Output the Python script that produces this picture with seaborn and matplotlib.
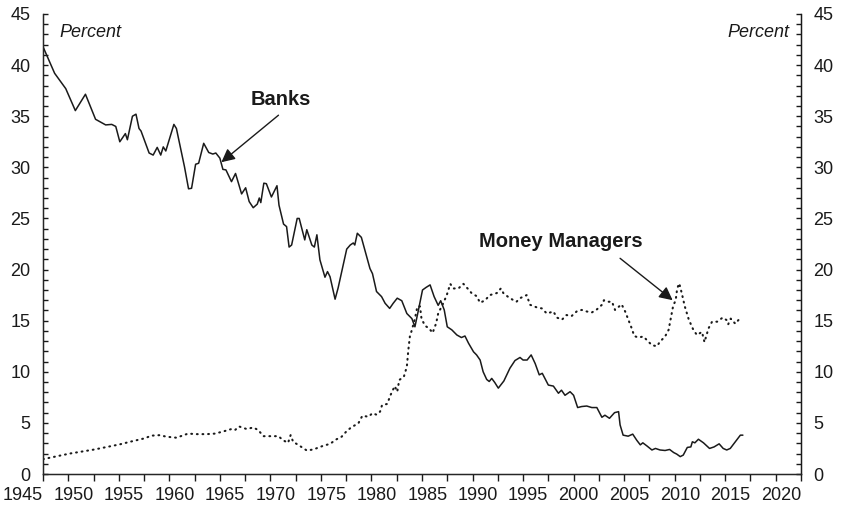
import numpy as np
import pandas as pd
import matplotlib
matplotlib.use("Agg")
import matplotlib.pyplot as plt
import seaborn as sns
from matplotlib.ticker import MultipleLocator

# ---------------- data ----------------
bank_years = [1945.0, 1946.15, 1947.25, 1948.2, 1949.2, 1950.2, 1951.2, 1951.8, 1952.2, 1952.6,
              1953.15, 1953.35, 1953.85, 1954.2, 1954.5, 1954.7, 1955.5, 1955.9, 1956.3, 1956.65,
              1956.9, 1957.15, 1957.95, 1958.2, 1959.0, 1959.4, 1959.7, 1960.1, 1960.4, 1960.9,
              1961.4, 1961.8, 1962.1, 1962.5, 1962.8, 1963.1, 1963.65, 1964.05, 1964.65, 1965.05,
              1965.4, 1965.8, 1966.2, 1966.4, 1966.55, 1966.85, 1967.1, 1967.6, 1968.15, 1968.35,
              1968.8, 1969.1, 1969.35, 1969.6, 1970.15, 1970.35, 1970.9, 1971.1, 1971.6, 1971.85,
              1972.1, 1972.4, 1972.9, 1973.15, 1973.4, 1973.9, 1974.2, 1974.7, 1975.05, 1975.4,
              1975.7, 1975.85, 1976.1, 1976.5, 1976.85, 1977.35, 1977.6, 1978.0, 1978.5, 1978.85,
              1979.3, 1979.65, 1980.05, 1980.5, 1981.0, 1981.5, 1981.8, 1982.15, 1982.55, 1982.9,
              1983.3, 1983.7, 1984.1, 1984.35, 1984.7, 1985.0, 1985.45, 1985.95, 1986.4, 1986.75,
              1987.1, 1987.6, 1987.9, 1988.25, 1988.55, 1988.9, 1989.15, 1989.4, 1989.7, 1990.05,
              1990.6, 1991.2, 1991.7, 1992.2, 1992.5, 1992.9, 1993.3, 1993.7, 1994.1, 1994.4,
              1995.0, 1995.5, 1996.0, 1996.3, 1996.65, 1997.15, 1997.5, 1997.9, 1998.3, 1998.8,
              1999.3, 1999.8, 2000.3, 2000.6, 2001.05, 2001.55, 2001.95, 2002.1, 2002.4, 2002.9,
              2003.35, 2003.75, 2004.1, 2004.35, 2004.75, 2005.25, 2005.6, 2006.05, 2006.55, 2007.0,
              2007.4, 2007.7, 2008.05, 2008.35, 2008.75, 2009.1, 2009.25, 2009.5, 2009.85, 2010.35,
              2010.95, 2011.4, 2011.9, 2012.3, 2012.65, 2013.0, 2013.5, 2014.0, 2014.25]
bank_values = [41.8, 39.2, 37.7, 35.55, 37.15, 34.7, 34.15, 34.2, 34.0, 32.5,
               33.3, 32.7, 35.0, 35.2, 33.8, 33.55, 31.4, 31.2, 31.95, 31.2,
               32.0, 31.6, 34.2, 33.8, 30.05, 27.9, 27.95, 30.3, 30.4, 32.35,
               31.45, 31.3, 31.4, 30.9, 29.8, 29.75, 28.6, 29.4, 27.4, 28.0,
               26.65, 26.05, 26.4, 27.0, 26.55, 28.45, 28.4, 27.1, 28.2, 26.3,
               24.45, 24.2, 22.2, 22.4, 25.0, 25.0, 22.9, 23.9, 22.4, 22.2,
               23.4, 20.95, 19.25, 19.8, 19.3, 17.1, 18.2, 20.45, 22.0, 22.4,
               22.6, 22.4, 23.55, 23.15, 21.9, 20.1, 19.6, 17.85, 17.35, 16.7,
               16.2, 16.7, 17.2, 16.95, 15.7, 15.2, 14.4, 16.05, 18.0, 18.25,
               18.5, 17.35, 16.5, 16.95, 16.05, 14.4, 14.1, 13.6, 13.35, 13.5,
               12.8, 11.95, 11.65, 11.15, 10.0, 9.25, 9.05, 9.35, 8.95, 8.4,
               9.1, 10.35, 11.1, 11.4, 11.15, 11.15, 11.65, 10.8, 9.7, 9.85,
               8.7, 8.6, 7.9, 8.2, 7.7, 8.05, 7.7, 6.5, 6.6, 6.65,
               6.5, 6.5, 5.55, 5.75, 5.45, 6.0, 6.1, 4.8, 3.8, 3.7,
               3.9, 3.3, 2.85, 3.05, 2.75, 2.35, 2.5, 2.35, 2.3, 2.4,
               2.1, 1.95, 1.7, 1.85, 2.6, 2.65, 3.15, 3.05, 3.4, 3.05,
               2.5, 2.65, 2.95, 2.5, 2.35, 2.5, 3.15, 3.8, 3.8]

mm_years = [1945.0, 1947.65, 1950.1, 1952.6, 1953.6, 1955.1, 1955.7, 1956.55, 1957.2, 1958.2,
            1959.35, 1960.2, 1961.2, 1962.0, 1962.8, 1963.65, 1964.0, 1964.4, 1965.15, 1965.8,
            1966.3, 1966.8, 1967.45, 1968.3, 1968.75, 1969.25, 1969.5, 1969.75, 1970.25, 1971.1,
            1971.75, 1972.7, 1973.4, 1974.05, 1974.55, 1975.05, 1975.55, 1976.2, 1976.6, 1977.2,
            1977.6, 1978.0, 1978.35, 1978.55, 1979.05, 1979.4, 1979.8, 1980.05, 1980.25, 1980.7,
            1981.0, 1981.15, 1981.3, 1981.5, 1981.8, 1982.05, 1982.3, 1982.45, 1982.8, 1983.2,
            1983.55, 1983.9, 1984.1, 1984.6, 1984.95, 1985.3, 1985.6, 1986.1, 1986.6, 1987.1,
            1987.4, 1987.9, 1988.25, 1988.75, 1989.2, 1989.9, 1990.3, 1990.55, 1991.05, 1991.55,
            1991.85, 1992.2, 1992.85, 1993.2, 1993.85, 1994.35, 1994.85, 1995.5, 1995.85, 1996.35,
            1996.8, 1997.3, 1997.8, 1998.3, 1998.8, 1999.3, 1999.8, 2000.3, 2000.5, 2000.95,
            2001.3, 2001.6, 2001.95, 2002.25, 2002.6, 2003.0, 2003.25, 2003.5, 2003.9, 2004.4,
            2004.75, 2005.25, 2005.75, 2006.05, 2006.55, 2006.9, 2007.15, 2007.35, 2007.6, 2007.75,
            2007.95, 2008.2, 2008.5, 2008.9, 2009.35, 2009.7, 2010.2, 2010.45, 2010.85, 2011.2,
            2011.7, 2012.25, 2012.65, 2012.8, 2013.05, 2013.5, 2013.8, 2014.05]
mm_values = [1.45, 2.0, 2.4, 2.9, 3.15, 3.5, 3.75, 3.8, 3.65, 3.55,
             3.95, 3.9, 3.9, 3.95, 4.15, 4.4, 4.3, 4.65, 4.4, 4.55,
             4.3, 3.7, 3.7, 3.7, 3.3, 3.05, 3.8, 3.15, 2.85, 2.3,
             2.4, 2.75, 2.95, 3.4, 3.65, 4.2, 4.6, 4.95, 5.7, 5.6,
             5.95, 5.8, 6.1, 6.75, 6.85, 7.75, 8.6, 8.05, 9.2, 9.5,
             10.5, 12.15, 13.45, 14.1, 15.2, 16.4, 16.4, 15.2, 14.5, 14.25,
             13.8, 14.75, 15.7, 16.7, 17.5, 18.6, 18.15, 18.15, 18.6, 18.05,
             17.7, 17.4, 16.75, 17.0, 17.5, 17.7, 18.15, 17.7, 17.3, 17.0,
             16.85, 17.2, 17.5, 16.55, 16.3, 16.2, 15.7, 15.9, 15.3, 15.1,
             15.55, 15.45, 15.9, 16.05, 15.9, 15.8, 16.1, 16.55, 17.0, 16.85,
             16.85, 16.05, 16.35, 16.6, 15.9, 14.9, 14.25, 13.5, 13.35, 13.45,
             13.1, 12.6, 12.5, 12.95, 13.45, 14.1, 15.4, 16.45, 17.0, 18.15,
             18.65, 17.7, 16.4, 15.1, 14.1, 13.6, 13.9, 12.9, 14.25, 14.9,
             14.9, 15.3, 15.05, 14.65, 15.2, 14.7, 15.05, 15.2]

x_ticks = list(range(1945, 2021, 5))
y_ticks = list(range(0, 46, 5))
x_tick_labels = [str(t) for t in x_ticks]
y_tick_labels = [str(t) for t in y_ticks]

# ---------------- style ----------------
sns.set_style("ticks")
plt.rcParams["font.family"] = ["Liberation Sans", "DejaVu Sans"]
INK = "#1a1a1a"

fig = plt.figure(figsize=(8.41, 5.11), dpi=100)
ax = fig.add_axes([43 / 841, 37 / 511, 758 / 841, 460 / 511])

banks = pd.DataFrame({"year": bank_years, "share": bank_values})
mm = pd.DataFrame({"year": mm_years, "share": mm_values})

sns.lineplot(data=banks, x="year", y="share", ax=ax, color=INK, lw=1.1,
             estimator=None, sort=False)
sns.lineplot(data=mm, x="year", y="share", ax=ax, color=INK, lw=1.5,
             linestyle=(0, (0.4, 2.3)), dash_capstyle="round",
             estimator=None, sort=False)

ax.set_xlim(1945, 2020)
ax.set_ylim(0, 45)
ax.set_xlabel("")
ax.set_ylabel("")
ax.spines["top"].set_visible(False)
for s in ["left", "right", "bottom"]:
    ax.spines[s].set_color(INK)
    ax.spines[s].set_linewidth(1.0)

ax.set_xticks(x_ticks)
ax.set_xticklabels(x_tick_labels, ha="right")
ax.xaxis.set_minor_locator(MultipleLocator(2.5))
ax.tick_params(axis="x", which="both", direction="out", length=5, width=1,
               color=INK, labelsize=13, labelcolor=INK, pad=4)
for lab in ax.get_xticklabels():
    lab.set_horizontalalignment("right")

ax.set_yticks(y_ticks)
ax.set_yticklabels(y_tick_labels)
ax.yaxis.set_minor_locator(MultipleLocator(1))
ax.tick_params(axis="y", which="both", direction="in", length=3.5, width=1,
               color=INK, labelsize=13, labelcolor=INK, pad=9)

ax2 = ax.twinx()
ax2.set_ylim(0, 45)
ax2.set_yticks(y_ticks)
ax2.set_yticklabels(y_tick_labels)
ax2.yaxis.set_minor_locator(MultipleLocator(1))
ax2.tick_params(axis="y", which="both", direction="in", length=3.5, width=1,
                color=INK, labelsize=13, labelcolor=INK, pad=9)
ax2.spines["top"].set_visible(False)
ax2.spines["right"].set_color(INK)

# ---------------- text & annotations ----------------
ax.text(1946.6, 43.2, "Percent", fontsize=13, style="italic", color=INK,
        ha="left", va="center")
ax.text(2018.9, 43.2, "Percent", fontsize=13, style="italic", color=INK,
        ha="right", va="center")

arrow = dict(arrowstyle="-|>", color=INK, lw=1.0, mutation_scale=20,
             shrinkA=0, shrinkB=0)
ax.text(1968.5, 36.6, "Banks", fontsize=14.5, fontweight="bold", color=INK,
        ha="center", va="center")
ax.annotate("", xy=(1962.65, 30.5), xytext=(1968.3, 35.1), arrowprops=arrow)

ax.text(1996.25, 22.7, "Money Managers", fontsize=14.5, fontweight="bold",
        color=INK, ha="center", va="center")
ax.annotate("", xy=(2007.3, 17.0), xytext=(2002.1, 21.1), arrowprops=arrow)

fig.savefig("out.png", dpi=100)
